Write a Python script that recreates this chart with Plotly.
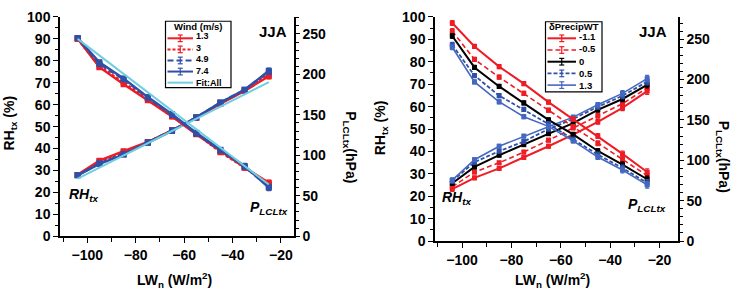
import plotly.graph_objects as go

W, H = 737, 303

# ---------------- data ----------------
x_bins = [-104, -95, -85, -75, -65, -55, -45, -35, -25]
x_fit = [-104, -25]

# Left panel: wind speed classes (m/s)
wind_labels = ["1.3", "3", "4.9", "7.4", "Fit:All"]
rh_w13 = [28.0, 34.5, 38.8, 43.0, 48.3, 54.0, 60.5, 66.3, 73.0]
rh_w3 = [28.0, 34.0, 38.3, 42.8, 48.2, 54.0, 60.6, 66.5, 74.0]
rh_w49 = [27.8, 33.3, 37.5, 42.8, 48.3, 54.2, 61.0, 66.8, 75.0]
rh_w74 = [27.8, 33.0, 37.2, 42.6, 48.0, 54.3, 61.0, 66.8, 75.5]
p_w13 = [244, 209, 188, 168, 148, 126, 105, 85, 66]
p_w3 = [244, 210, 190, 169, 149, 127, 104, 85, 64]
p_w49 = [245, 213, 194, 171, 150, 127, 106, 86, 61]
p_w74 = [245, 215, 195, 172, 151, 128, 107, 87, 60]
rh_fit = [26.3, 70.3]
p_fit = [244, 64]
rh_err_l = [0.8, 0.8, 0.8, 0.8, 0.8, 0.8, 0.9, 1.0, 1.2]
p_err_l = [2.5, 2.5, 2.5, 2.5, 2.5, 2.5, 2.5, 3.0, 3.5]

# Right panel: delta Precip WT classes
dp_labels = ["-1.1", "-0.5", "0", "0.5", "1.3"]
rh_dm11 = [23.2, 28.2, 32.4, 37.3, 42.3, 47.5, 53.2, 59.4, 66.9]
rh_dm05 = [24.2, 30.8, 34.9, 39.7, 45.0, 50.5, 55.9, 61.3, 68.3]
rh_d0 = [25.8, 33.1, 38.3, 43.0, 47.9, 52.6, 58.5, 63.4, 69.7]
rh_d05 = [26.8, 35.2, 40.1, 44.4, 50.0, 54.5, 59.9, 64.8, 71.1]
rh_d13 = [27.2, 36.3, 42.3, 46.8, 51.0, 55.3, 60.8, 65.9, 72.5]
p_dm11 = [270, 241, 216, 195, 172, 151, 130, 108, 85.5]
p_dm05 = [260, 225, 203, 183, 162, 141.5, 121, 101, 81]
p_d0 = [254, 215, 191.5, 171, 150, 132, 111.5, 94.5, 76.5]
p_d05 = [243, 205, 180, 163, 145, 126, 107, 90.5, 72]
p_d13 = [240, 197, 172.5, 154, 142, 124, 104, 88, 69.5]
rh_err_r = [1.0, 0.8, 0.8, 0.8, 0.8, 0.8, 1.0, 1.2, 1.4]
p_err_r = [3.0, 2.5, 2.5, 2.5, 2.5, 2.5, 3.0, 3.5, 4.0]

# ---------------- styles ----------------
RED = "#ee1c24"
BLUE = "#3050a8"
LBLUE = "#4468c0"
CYAN = "#6fcfe0"
BLACK = "#000000"
FONT = "Liberation Sans, Arial, sans-serif"


def px(x):
    return x / W


def py(y):
    return 1 - y / H


fig = go.Figure()


def add_series(x, y, err, color, dash, xa, ya, width=2.0, msize=5):
    fig.add_trace(go.Scatter(
        x=x, y=y, xaxis=xa, yaxis=ya, mode="lines+markers",
        line=dict(color=color, width=width, dash=dash),
        marker=dict(symbol="square", size=msize, color=color),
        error_y=dict(type="data", array=err, visible=True, color=color,
                     thickness=1.2, width=2),
        showlegend=False, hoverinfo="skip"))


# left panel
left_styles = [(RED, "solid"), (RED, "3px,2px"), (BLUE, "6px,3px"), (BLUE, "solid")]
for rh, p, (c, d) in zip([rh_w13, rh_w3, rh_w49, rh_w74],
                         [p_w13, p_w3, p_w49, p_w74], left_styles):
    add_series(x_bins, rh, rh_err_l, c, d, "x", "y", 2.4, 6)
    add_series(x_bins, p, p_err_l, c, d, "x", "y2", 2.4, 6)
for yv, ya in [(rh_fit, "y"), (p_fit, "y2")]:
    fig.add_trace(go.Scatter(x=x_fit, y=yv, xaxis="x", yaxis=ya, mode="lines",
                             line=dict(color=CYAN, width=2), showlegend=False,
                             hoverinfo="skip"))

# right panel
right_styles = [(RED, "solid", 2.0), (RED, "5px,3px", 1.6), (BLACK, "solid", 2.0),
                (BLUE, "4px,2px", 1.8), (LBLUE, "solid", 1.6)]
for rh, p, (c, d, w) in zip([rh_dm11, rh_dm05, rh_d0, rh_d05, rh_d13],
                            [p_dm11, p_dm05, p_d0, p_d05, p_d13], right_styles):
    add_series(x_bins, rh, rh_err_r, c, d, "x2", "y3", w)
    add_series(x_bins, p, p_err_r, c, d, "x2", "y4", w)

tickfont = dict(family=FONT, size=14, color="black", weight="bold")
axis_common = dict(showline=True, linecolor="black", linewidth=1.5,
                   tickcolor="black", tickwidth=1.2, showgrid=False,
                   zeroline=False, tickfont=tickfont)

fig.update_layout(
    width=W, height=H, margin=dict(l=0, r=0, t=0, b=0),
    paper_bgcolor="white", plot_bgcolor="white", showlegend=False,
    xaxis=dict(domain=[px(60), px(294)], range=[-111.3, -14.6], anchor="y",
               tickvals=[-100, -80, -60, -40, -20], ticks="outside", ticklen=5,
               minor=dict(dtick=10, tick0=0, ticks="outside", ticklen=4, tickcolor="black"),
               **axis_common),
    yaxis=dict(domain=[py(241), py(9.5)], range=[0, 100], anchor="x", dtick=10,
               ticks="outside", ticklen=5,
               minor=dict(dtick=5, ticks="outside", ticklen=3, tickcolor="black"),
               **axis_common),
    yaxis2=dict(overlaying="y", side="right", anchor="x", range=[0, 271], dtick=50,
                ticks="outside", ticklen=4,
                minor=dict(dtick=10, ticks="outside", ticklen=3, tickcolor="black"),
                **axis_common),
    xaxis2=dict(domain=[px(435), px(678)], range=[-111, -12.5], anchor="y3",
                tickvals=[-100, -80, -60, -40, -20], ticks="outside", ticklen=5,
                minor=dict(dtick=10, tick0=0, ticks="outside", ticklen=4, tickcolor="black"),
                **axis_common),
    yaxis3=dict(domain=[py(246), py(9.5)], range=[0, 100], anchor="x2", dtick=10,
                ticks="outside", ticklen=5,
                minor=dict(dtick=5, ticks="outside", ticklen=3, tickcolor="black"),
                **axis_common),
    yaxis4=dict(overlaying="y3", side="right", anchor="x2", range=[0, 277.5], dtick=50,
                ticks="outside", ticklen=4,
                minor=dict(dtick=10, ticks="outside", ticklen=3, tickcolor="black"),
                **axis_common),
)

ann = []
shapes = []


def text(x, y, s, size=14, angle=0, italic=False, anchor="center", weight="bold"):
    ann.append(dict(x=px(x), y=py(y), xref="paper", yref="paper", text=s,
                    showarrow=False, textangle=angle, xanchor=anchor, yanchor="middle",
                    borderpad=0, align="left",
                    font=dict(family=FONT, size=size, color="black", weight=weight,
                              style="italic" if italic else "normal")))


# axis titles
text(10, 122, "RH<sub>tx</sub> (%)", angle=-90)
text(381, 127, "RH<sub>tx</sub> (%)", angle=-90)
text(350, 147, "P<sub>LCLtx</sub>(hPa)", angle=90)
text(723, 157, "P<sub>LCLtx</sub>(hPa)", angle=90)
text(174, 287, "LW<sub>n</sub> (W/m<sup>2</sup>)")
text(552, 287, "LW<sub>n</sub> (W/m<sup>2</sup>)")
# panel labels
text(273, 25, "JJA", size=15)
text(653, 25, "JJA", size=15)
text(83, 197, "RH<sub>tx</sub>", italic=True)
text(457, 201, "RH<sub>tx</sub>", italic=True)
text(269, 211, "P<sub>LCLtx</sub>", italic=True)
text(647, 208, "P<sub>LCLtx</sub>", italic=True)


def draw_legend(box, title, labels, styles, first_row, fsize, line_x, text_x, err_flags):
    x0, y0, x1, y1 = box
    step = 1.3 * fsize
    rows = [first_row + i * step for i in range(len(labels))]
    shapes.append(dict(type="rect", xref="paper", yref="paper", x0=px(x0), x1=px(x1),
                       y0=py(y1), y1=py(y0), line=dict(color="black", width=1.2),
                       fillcolor="white", layer="above"))
    text((x0 + x1) / 2, y0 + 5.5, title, size=9.5)
    for (c, d, w), ry, ef in zip(styles, rows, err_flags):
        shapes.append(dict(type="line", xref="paper", yref="paper", x0=px(line_x[0]),
                           x1=px(line_x[1]), y0=py(ry), y1=py(ry),
                           line=dict(color=c, width=w, dash=d), layer="above"))
        if ef:
            xm = (line_x[0] + line_x[1]) / 2
            shapes.append(dict(type="line", xref="paper", yref="paper", x0=px(xm), x1=px(xm),
                               y0=py(ry - 3.5), y1=py(ry + 3.5),
                               line=dict(color=c, width=1.2), layer="above"))
            for dy in (-3.5, 3.5):
                shapes.append(dict(type="line", xref="paper", yref="paper", x0=px(xm - 2.5),
                                   x1=px(xm + 2.5), y0=py(ry + dy), y1=py(ry + dy),
                                   line=dict(color=c, width=1.2), layer="above"))
    text(text_x, (rows[0] + rows[-1]) / 2 - 1.0, "<br>".join(labels), size=fsize,
         anchor="left")


draw_legend((165.5, 14, 231, 84), "Wind (m/s)", wind_labels,
            [(c, d, 2) for c, d in left_styles] + [(CYAN, "solid", 2)],
            32.0, 9.0, (167.5, 193), 194.5,
            [True, True, True, True, False])
draw_legend((545.5, 14.5, 602, 88.5), "δPrecipWT", dp_labels, right_styles,
            32.0, 9.5, (547.5, 576), 578,
            [True, True, True, True, True])

fig.update_layout(annotations=ann, shapes=shapes)
fig.write_html("out.html", config={"displayModeBar": False},
               post_script="document.body.style.margin='0';"
                           "document.body.style.overflow='hidden';")
